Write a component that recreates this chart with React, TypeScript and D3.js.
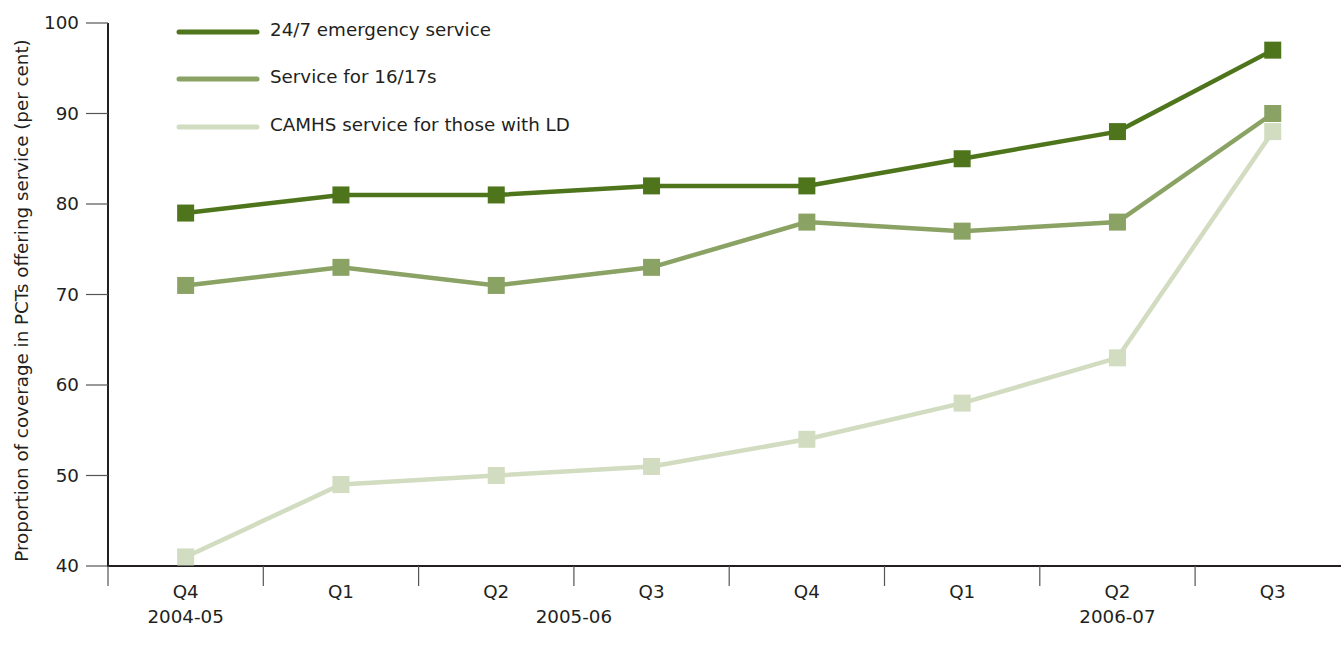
import React from "react";
import * as d3 from "d3";

const categories = ["Q4 2004-05", "Q1 2005-06", "Q2 2005-06", "Q3 2005-06", "Q4 2005-06", "Q1 2006-07", "Q2 2006-07", "Q3 2006-07"];
const quarterLabels = ["Q4", "Q1", "Q2", "Q3", "Q4", "Q1", "Q2", "Q3"];
const emergency = [79, 81, 81, 82, 82, 85, 88, 97];
const service1617 = [71, 73, 71, 73, 78, 77, 78, 90];
const camhsLD = [41, 49, 50, 51, 54, 58, 63, 88];
const yTicks = [40, 50, 60, 70, 80, 90, 100];
const seriesNames = ["24/7 emergency service", "Service for 16/17s", "CAMHS service for those with LD"];
const seriesColors = ["#4e751c", "#8aa364", "#d1dcc0"];

const W = 1341, H = 655;
const left = 108, top = 23, bottom = 566;
const bandW = 155.3;

export default function App() {
  const x = d3.scaleBand<string>().domain(categories).range([left, left + bandW * categories.length]).padding(0);
  const y = d3.scaleLinear().domain([40, 100]).range([bottom, top]);
  const cx = (c: string) => (x(c) as number) + x.bandwidth() / 2;
  const line = d3.line<number>().x((_, i) => cx(categories[i])).y(d => y(d));
  const all = [emergency, service1617, camhsLD];
  const font = "'DejaVu Sans', sans-serif";
  const fs = 18.3;
  const ms = 17;
  const yearLabels = [
    { text: "2004-05", x: cx(categories[0]) },
    { text: "2005-06", x: x(categories[3]) as number },
    { text: "2006-07", x: cx(categories[6]) },
  ];
  return (
    <svg width={W} height={H} style={{ position: "absolute", left: 0, top: 0, background: "#fff" }} fontFamily={font}>
      {/* y axis */}
      <line x1={left} x2={left} y1={top} y2={bottom} stroke="#231f20" strokeWidth={2} />
      {yTicks.map(t => (
        <g key={t}>
          <line x1={86} x2={left} y1={y(t)} y2={y(t)} stroke="#555" strokeWidth={1.2} />
          <text x={79} y={y(t)} dy="0.35em" textAnchor="end" fontSize={fs} fill="#231f20">{t}</text>
        </g>
      ))}
      {/* x axis */}
      <line x1={left - 1} x2={W} y1={bottom} y2={bottom} stroke="#231f20" strokeWidth={2} />
      {categories.map(c => (
        <line key={c} x1={x(c) as number} x2={x(c) as number} y1={bottom} y2={586} stroke="#555" strokeWidth={1.2} />
      ))}
      {categories.map((c, i) => (
        <text key={c} x={cx(c)} y={598} textAnchor="middle" fontSize={fs} fill="#231f20">{quarterLabels[i]}</text>
      ))}
      {yearLabels.map(l => (
        <text key={l.text} x={l.x} y={623} textAnchor="middle" fontSize={fs} fill="#231f20">{l.text}</text>
      ))}
      <text transform={`translate(28, ${(top + bottom) / 2 + 6}) rotate(-90)`} textAnchor="middle" fontSize={fs} fill="#231f20">
        Proportion of coverage in PCTs offering service (per cent)
      </text>
      {/* series, light drawn first */}
      {[2, 1, 0].map(si => (
        <g key={si}>
          <path d={line(all[si]) || ""} fill="none" stroke={seriesColors[si]} strokeWidth={4.5} />
          {all[si].map((v, i) => (
            <rect key={i} x={cx(categories[i]) - ms / 2} y={y(v) - ms / 2} width={ms} height={ms} fill={seriesColors[si]} />
          ))}
        </g>
      ))}
      {/* legend */}
      {seriesNames.map((n, i) => {
        const ly = [32, 79, 127][i];
        return (
          <g key={n}>
            <line x1={179} x2={257} y1={ly} y2={ly} stroke={seriesColors[i]} strokeWidth={5} strokeLinecap="round" />
            <text x={270} y={ly - 2} dy="0.35em" fontSize={fs} fill="#231f20">{n}</text>
          </g>
        );
      })}
    </svg>
  );
}
